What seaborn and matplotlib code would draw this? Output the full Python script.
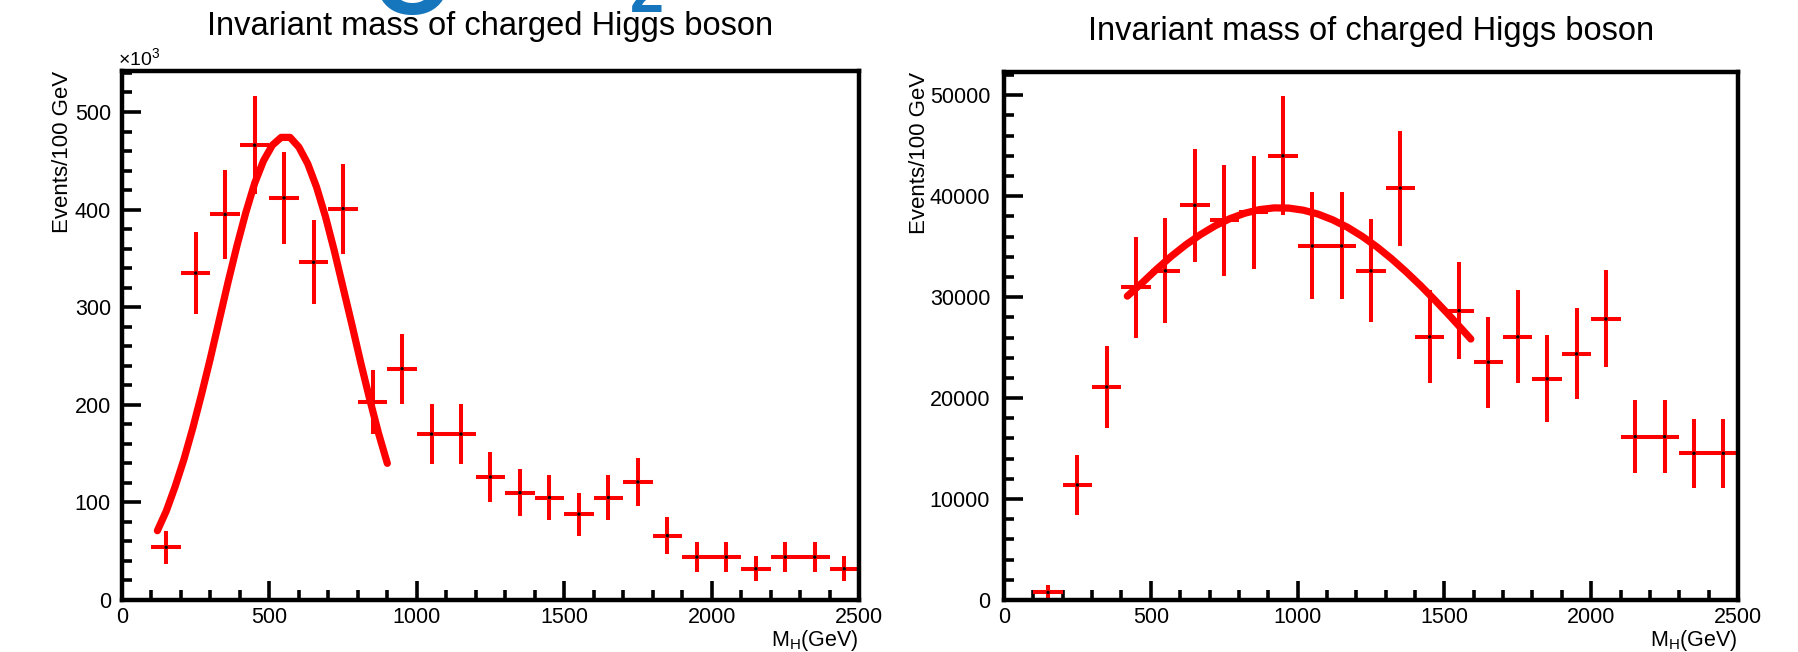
import matplotlib
matplotlib.use("Agg")
import matplotlib.pyplot as plt
import seaborn as sns
from matplotlib.ticker import MultipleLocator

# bin centres (100 GeV bins)
mass_bins = [150, 250, 350, 450, 550, 650, 750, 850, 950, 1050, 1150, 1250,
             1350, 1450, 1550, 1650, 1750, 1850, 1950, 2050, 2150, 2250, 2350, 2450]

# left panel, events in units of 10^3
left_counts = [54, 335, 395, 466, 412, 346, 401, 203, 237, 170, 170, 126,
               110, 105, 88, 105, 121, 66, 44, 44, 32, 44, 44, 32]
left_errors = [17, 42, 46, 50, 47, 43, 46, 33, 36, 31, 31, 26,
               24, 23, 22, 23, 25, 19, 15, 15, 13, 15, 15, 13]
left_fit_x = [120, 150, 180, 210, 240, 270, 300, 330, 360, 390, 420, 450, 480, 510,
              540, 570, 600, 630, 660, 690, 720, 750, 780, 810, 840, 870, 900]
left_fit_y = [71, 91, 116, 144, 176, 211, 248, 287, 326, 363, 397, 427, 450, 466,
              474, 474, 464, 447, 423, 393, 358, 320, 282, 243, 206, 171, 140]

# right panel
right_counts = [750, 11400, 21100, 31000, 32600, 39100, 37600, 38400, 44000, 35070, 35070, 32600,
                40800, 26060, 28660, 23560, 26060, 21910, 24380, 27840, 16180, 16180, 14530, 14530]
right_errors = [700, 3000, 4100, 5000, 5200, 5600, 5500, 5600, 5900, 5300, 5300, 5100,
                5700, 4600, 4800, 4500, 4600, 4300, 4500, 4800, 3600, 3600, 3400, 3400]
right_fit_x = [420, 470, 520, 570, 620, 670, 720, 770, 820, 870, 920, 970, 1020,
               1070, 1120, 1170, 1220, 1270, 1320, 1370, 1420, 1470, 1520, 1570, 1590]
right_fit_y = [30100, 31400, 32770, 34050, 35200, 36210, 37080, 37780, 38310, 38670, 38840,
               38820, 38610, 38220, 37650, 36920, 36020, 34980, 33800, 32500, 31110,
               29630, 28090, 26490, 25850]

title = 'Invariant mass of charged Higgs boson'

sns.set_style("ticks")
plt.rcParams['font.family'] = ['Liberation Sans', 'DejaVu Sans']
plt.rcParams['mathtext.fontset'] = 'custom'
plt.rcParams['mathtext.rm'] = 'Liberation Sans'
plt.rcParams['mathtext.it'] = 'Liberation Sans:italic'
for key in ['text.color', 'axes.labelcolor', 'xtick.color', 'ytick.color', 'axes.edgecolor']:
    plt.rcParams[key] = 'black'

fig = plt.figure(figsize=(17.99, 6.52), dpi=100)
ax1 = fig.add_axes([122 / 1799, 52 / 652, 737 / 1799, 529 / 652])
ax2 = fig.add_axes([1004 / 1799, 52 / 652, 734 / 1799, 528 / 652])


def draw_panel(ax, counts, errors, fit_x, fit_y, ymax, ymajor, yminor, ypad, label_x, title_pad):
    ax.errorbar(mass_bins, counts, xerr=50, yerr=errors, fmt='none',
                ecolor='red', elinewidth=2.9, capsize=0, zorder=2)
    sns.scatterplot(x=mass_bins, y=counts, color='black', s=6, marker='o',
                    edgecolor='none', ax=ax, zorder=3)
    sns.lineplot(x=fit_x, y=fit_y, color='red', lw=5.2, sort=False, ax=ax, zorder=4)

    ax.set_xlim(0, 2500)
    ax.set_ylim(0, ymax)
    ax.xaxis.set_major_locator(MultipleLocator(500))
    ax.xaxis.set_minor_locator(MultipleLocator(100))
    ax.yaxis.set_major_locator(MultipleLocator(ymajor))
    ax.yaxis.set_minor_locator(MultipleLocator(yminor))
    ax.tick_params(which='both', direction='in', top=False, right=False, width=2.6,
                   labelsize=15.5, colors='black')
    ax.tick_params(which='major', length=14)
    ax.tick_params(which='minor', length=7)
    ax.tick_params(axis='y', pad=ypad)
    ax.tick_params(axis='x', pad=5)
    for sp in ax.spines.values():
        sp.set_linewidth(3.2)
        sp.set_color('black')

    ax.set_title(title, fontsize=23.5, pad=title_pad)
    ax.set_ylabel('Events/100 GeV', fontsize=16, loc='top')
    ax.yaxis.set_label_coords(label_x, 1.0)
    ax.set_xlabel(r'M$_{\rm H}$(GeV)', fontsize=15.5, loc='right')
    ax.xaxis.set_label_coords(1.0, -0.053)


draw_panel(ax1, left_counts, left_errors, left_fit_x, left_fit_y,
           542, 100, 20, 8, -0.0665, 26)
draw_panel(ax2, right_counts, right_errors, right_fit_x, right_fit_y,
           52300, 10000, 2000, 10, -0.1008, 23)

ax1.text(-0.006, 1.011, r'$\times10^{3}$', transform=ax1.transAxes,
         ha='left', va='baseline', fontsize=14)

# cut-off blue glyphs at the top edge of the slide
fig.text(412 / 1799, 1 - 14 / 652, 'O', fontsize=75, fontweight='bold',
         color='#1676bd', ha='center', va='baseline')
fig.text(647 / 1799, 1 - 12 / 652, '2', fontsize=44, fontweight='bold',
         color='#1676bd', ha='center', va='baseline')

fig.savefig('out.png', dpi=100)
